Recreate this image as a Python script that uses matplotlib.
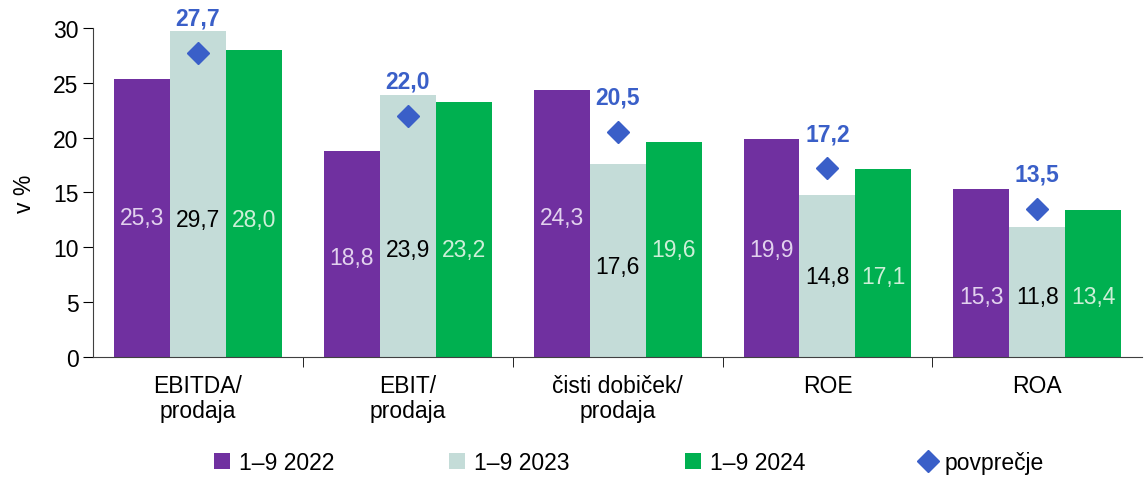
import numpy as np
import matplotlib
matplotlib.use('Agg')
import matplotlib.pyplot as plt
from matplotlib import font_manager

# data
categories = ['EBITDA/\nprodaja', 'EBIT/\nprodaja', 'čisti dobiček/\nprodaja', 'ROE', 'ROA']
series_names = ['1–9 2022', '1–9 2023', '1–9 2024']
v2022 = [25.3, 18.8, 24.3, 19.9, 15.3]
v2023 = [29.7, 23.9, 17.6, 14.8, 11.8]
v2024 = [28.0, 23.2, 19.6, 17.1, 13.4]
average = [27.7, 22.0, 20.5, 17.2, 13.5]
# heights where the value labels sit inside the bars
label_y = [[12.7, 9.1, 12.7, 9.8, 5.5],
           [12.5, 9.8, 8.2, 7.3, 5.5],
           [12.5, 9.8, 9.8, 7.3, 5.5]]

names = [f.name for f in font_manager.fontManager.ttflist]
fam = 'Liberation Sans Narrow' if 'Liberation Sans Narrow' in names else 'Liberation Sans'
plt.rcParams['font.family'] = [fam, 'DejaVu Sans']
fs = 16.5

colors = ['#7030A0', '#C4DCD8', '#00B050']
text_colors = ['#E2D2EE', '#000000', '#CDEFD8']
avg_color = '#3A5FC8'

fig = plt.figure(figsize=(11.48, 4.81), dpi=100)
ax = fig.add_axes([0.081, 0.256, 0.914, 0.684])

x = np.arange(len(categories))
w = 0.8 / 3
for i, vals in enumerate([v2022, v2023, v2024]):
    pos = x + (i - 1) * w
    ax.bar(pos, vals, width=w, color=colors[i], label=series_names[i], zorder=2)
    for p, v, ly in zip(pos, vals, label_y[i]):
        ax.text(p, ly, f'{v:.1f}'.replace('.', ','), ha='center', va='center',
                color=text_colors[i], fontsize=fs, zorder=3)

ax.plot(x, average, linestyle='none', marker='D', markersize=11, color=avg_color,
        label='povprečje', zorder=4)
for xi, a in zip(x, average):
    ax.annotate(f'{a:.1f}'.replace('.', ','), (xi, a), xytext=(0, 25),
                textcoords='offset points', ha='center', va='center',
                color=avg_color, fontsize=fs, fontweight='bold', annotation_clip=False)

ax.set_xlim(-0.5, len(categories) - 0.5)
ax.set_ylim(0, 30)
ax.set_yticks(range(0, 31, 5))
ax.set_ylabel('v %', fontsize=fs)
ax.yaxis.set_label_coords(-0.054, 0.5)
ax.set_xticks(x)
ax.set_xticklabels(categories, fontsize=fs, linespacing=1.15)
ax.tick_params(axis='x', length=0, pad=12)
ax.set_xticks(np.arange(0.5, len(categories) - 1, 1), minor=True)
ax.tick_params(axis='x', which='minor', length=7, direction='out')
ax.tick_params(axis='y', length=7, direction='out', labelsize=fs)
for s in ['top', 'right']:
    ax.spines[s].set_visible(False)
for s in ['left', 'bottom']:
    ax.spines[s].set_color('#404040')

handles, labels = ax.get_legend_handles_labels()
order = [1, 2, 3, 0]
fig.legend([handles[k] for k in order], [labels[k] for k in order],
           loc='center', bbox_to_anchor=(0.548, 0.037), ncol=4,
           frameon=False, fontsize=fs, handlelength=0.7, handleheight=0.7,
           handletextpad=0.4, columnspacing=5.0)

fig.savefig('out.png', dpi=100)
